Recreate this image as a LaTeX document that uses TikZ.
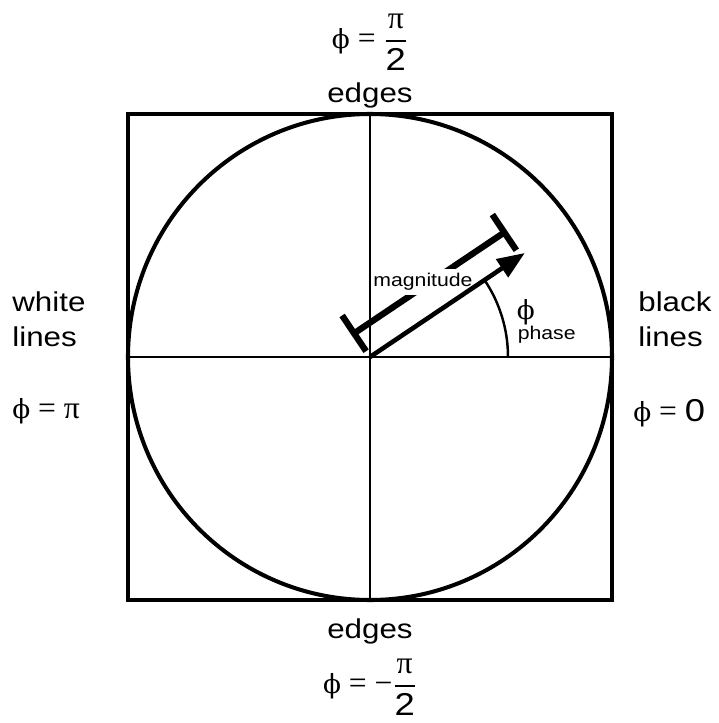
\documentclass[tikz,border=0pt]{standalone}
\usepackage{amsmath}
\usepackage{fontspec}
\setmainfont{Liberation Sans}[FakeStretch=1.15]
\newfontfamily\greekfont{Liberation Serif}
\newfontfamily\phifont{DejaVu Serif}
\newcommand{\phisym}{{\phifont\fontsize{15}{18}\selectfont ϕ}}
\usetikzlibrary{arrows.meta,positioning,calc}

\begin{document}
\begin{tikzpicture}[
  frame/.style={line width=2.3pt},
  axis/.style={line width=1.4pt},
  vector/.style={line width=2.6pt,-{Triangle[length=5.5mm,width=4.2mm]}},
  ruler/.style={line width=3.6pt},
  sweep/.style={line width=1.4pt},
  caption/.style={align=left,font=\fontsize{15.5}{20}\selectfont,inner sep=0pt},
  value/.style={font=\fontsize{18}{20}\selectfont\greekfont,inner sep=0pt},
  tag/.style={font=\fontsize{10.5}{12}\selectfont,inner sep=2.5pt}
]
% Fixed bounds keep the margins of the drawing.
\useasboundingbox (-7.4,-7.32) rectangle (6.98,7.14);

\coordinate (origin) at (0,0);
\coordinate (north) at (0,4.86);
\coordinate (south) at (0,-4.86);
\coordinate (west) at (-4.84,0);
\coordinate (east) at (4.84,0);
\coordinate (tip) at (33.9:3.73);
\coordinate (sweep-start) at (2.76,0);

\draw[frame] (-4.84,-4.86) rectangle (4.84,4.86);
\draw[frame] (origin) ellipse[x radius=4.84,y radius=4.86];

% magnitude ruler, offset from the vector
\begin{scope}[rotate=33.9]
  \coordinate (ruler-start) at (0,0.57);
  \coordinate (ruler-end) at (3.62,0.57);
  \coordinate (cap-a1) at (0,0.14);
  \coordinate (cap-a2) at (0,1.0);
  \coordinate (cap-b1) at (3.62,0.14);
  \coordinate (cap-b2) at (3.62,1.0);
\end{scope}
\draw[ruler] (ruler-start) -- (ruler-end);
\draw[ruler] (cap-a1) -- (cap-a2);
\draw[ruler] (cap-b1) -- (cap-b2);
\node[tag,fill=white] (magnitude) at (1.06,1.5) {magnitude};

\draw[axis] (west) -- (east);
\draw[axis] (north) -- (south);
\draw[vector] (origin) -- (tip);
\draw[sweep] (sweep-start) arc[start angle=0,end angle=33.9,radius=2.76];

\node[value,anchor=base west] (phase-symbol) at (2.93,0.76) {\phisym};
\node[tag,inner sep=0pt,anchor=base west] (phase-label) at (2.95,0.34) {phase};

% top and bottom
\node[caption,anchor=base] (edges-top) at (0,5.08) {edges};
\node[value] (value-top) at (0,6.3)
  {\phisym{} = $\genfrac{}{}{1.1pt}{0}{\text{π}}{\text{\normalfont 2}}$};
\node[caption,anchor=base] (edges-bottom) at (0,-5.62) {edges};
\node[value] (value-bottom) at (0,-6.6)
  {\phisym{} = −$\genfrac{}{}{1.1pt}{0}{\text{π}}{\text{\normalfont 2}}$};

% left and right
\node[caption,anchor=base west] (white-lines) at (-7.16,0.2) {white\\lines};
\node[value,anchor=base west] (value-left) at (-7.16,-1.22) {\phisym{} = π};
\node[caption,anchor=base west] (black-lines) at (5.36,0.2) {black\\lines};
\node[value,anchor=base west] (value-right) at (5.26,-1.28) {\phisym{} = {\normalfont 0}};
\end{tikzpicture}
\end{document}
